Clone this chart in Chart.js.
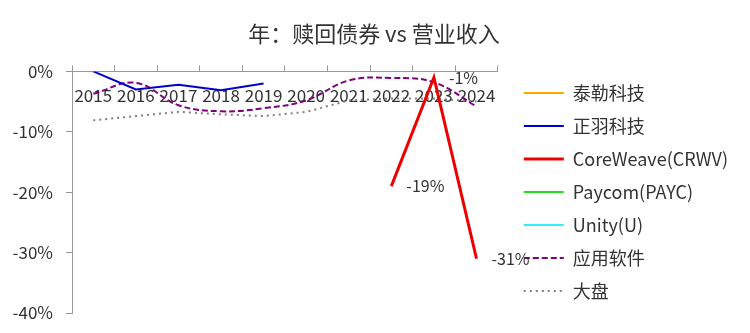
<!DOCTYPE html>
<html>
<head>
<meta charset="utf-8">
<script src="https://cdn.jsdelivr.net/npm/chart.js@4.4.1/dist/chart.umd.min.js"></script>
<style>
  html, body { margin: 0; padding: 0; background: #fff; }
  #wrap { width: 750px; height: 333px; }
</style>
</head>
<body>
<div id="wrap"><canvas id="chart"></canvas></div>
<script>
var years = ['2015', '2016', '2017', '2018', '2019', '2020', '2021', '2022', '2023', '2024'];
var taile = [null, null, null, null, null, null, null, null, null, null];
var zhengyu = [0, -3.0, -2.2, -3.1, -2.0, null, null, null, null, null];
var coreweave = [null, null, null, null, null, null, null, -19, -1, -31];
var paycom = [null, null, null, null, null, null, null, null, null, null];
var unity = [null, null, null, null, null, null, null, null, null, null];
var appSoftware = [-3.7, -1.9, -5.6, -6.6, -6.1, -4.8, -1.5, -1.1, -1.8, -5.8];
var market = [-8.1, -7.4, -6.7, -7.1, -7.4, -6.7, -4.8, -4.5, -4.5, -5.0];

var fontFamily = '"Noto Sans CJK SC", "Noto Sans", sans-serif';

// value labels next to the CoreWeave points
var pointLabels = {
  id: 'pointLabels',
  afterDatasetsDraw: function (chart) {
    var meta = chart.getDatasetMeta(2);
    var ctx = chart.ctx;
    ctx.save();
    ctx.font = '16px ' + fontFamily;
    ctx.fillStyle = '#333';
    ctx.textBaseline = 'middle';
    ctx.textAlign = 'left';
    meta.data.forEach(function (pt, i) {
      if (coreweave[i] == null) return;
      ctx.fillText(Math.round(coreweave[i]) + '%', pt.x + 15, pt.y);
    });
    ctx.restore();
  }
};

var ctx = document.getElementById('chart').getContext('2d');
new Chart(ctx, {
  type: 'line',
  data: {
    labels: years,
    datasets: [
      { label: '泰勒科技', data: taile, borderColor: '#FFA500', borderWidth: 2 },
      { label: '正羽科技', data: zhengyu, borderColor: '#0000CC', borderWidth: 2 },
      { label: 'CoreWeave(CRWV)', data: coreweave, borderColor: '#EE0000', borderWidth: 3 },
      { label: 'Paycom(PAYC)', data: paycom, borderColor: '#22DD22', borderWidth: 2 },
      { label: 'Unity(U)', data: unity, borderColor: '#33EEFF', borderWidth: 2 },
      { label: '应用软件', data: appSoftware, borderColor: '#800080', borderWidth: 2, borderDash: [6, 3], tension: 0.4 },
      { label: '大盘', data: market, borderColor: '#808080', borderWidth: 2, borderDash: [2, 4] }
    ]
  },
  options: {
    responsive: true,
    maintainAspectRatio: false,
    animation: false,
    elements: { point: { radius: 0, hoverRadius: 0 } },
    layout: { padding: { left: 10, right: 12, top: 0, bottom: 18 } },
    plugins: {
      title: {
        display: true,
        text: '年：赎回债券 vs 营业收入',
        color: '#333',
        font: { family: fontFamily, size: 22, weight: 'normal' },
        padding: { top: 20, bottom: 19 }
      },
      legend: {
        position: 'right',
        align: 'end',
        maxWidth: 300,
        labels: {
          usePointStyle: true,
          pointStyle: 'line',
          pointStyleWidth: 40,
          color: '#333',
          padding: 15,
          font: { family: fontFamily, size: 18 },
          // keep the dashes of the lines in the legend samples
          generateLabels: function (chart) {
            var items = Chart.defaults.plugins.legend.labels.generateLabels(chart);
            items.forEach(function (item) {
              item.lineDash = chart.data.datasets[item.datasetIndex].borderDash || [];
            });
            return items;
          }
        }
      },
      tooltip: { enabled: false }
    },
    scales: {
      x: {
        position: 'top',
        offset: true,
        grid: { drawOnChartArea: false, tickLength: 6, color: '#999', offset: true },
        border: { color: '#999' },
        ticks: {
          mirror: true,
          padding: 14,
          autoSkip: false,
          maxRotation: 0,
          color: '#333',
          font: { family: fontFamily, size: 17 }
        },
        afterFit: function (scale) { scale.height = 6; }
      },
      y: {
        min: -40,
        max: 0,
        grid: { drawOnChartArea: false, tickLength: 6, color: '#999' },
        border: { color: '#999' },
        ticks: {
          stepSize: 10,
          padding: 13,
          color: '#333',
          font: { family: fontFamily, size: 17 },
          callback: function (v) { return v + '%'; }
        },
        afterFit: function (scale) {
          scale.width = 62;
          scale.paddingTop = 0;
          scale.paddingBottom = 0;
        }
      },
      // empty spacers around the plot
      gap: {
        type: 'linear',
        position: 'right',
        grid: { display: false },
        border: { display: false },
        ticks: { display: false },
        afterFit: function (scale) { scale.width = 11; }
      },
      gapBottom: {
        type: 'linear',
        axis: 'x',
        position: 'bottom',
        grid: { display: false },
        border: { display: false },
        ticks: { display: false },
        afterFit: function (scale) { scale.height = 2; }
      }
    }
  },
  plugins: [pointLabels]
});
</script>
</body>
</html>
